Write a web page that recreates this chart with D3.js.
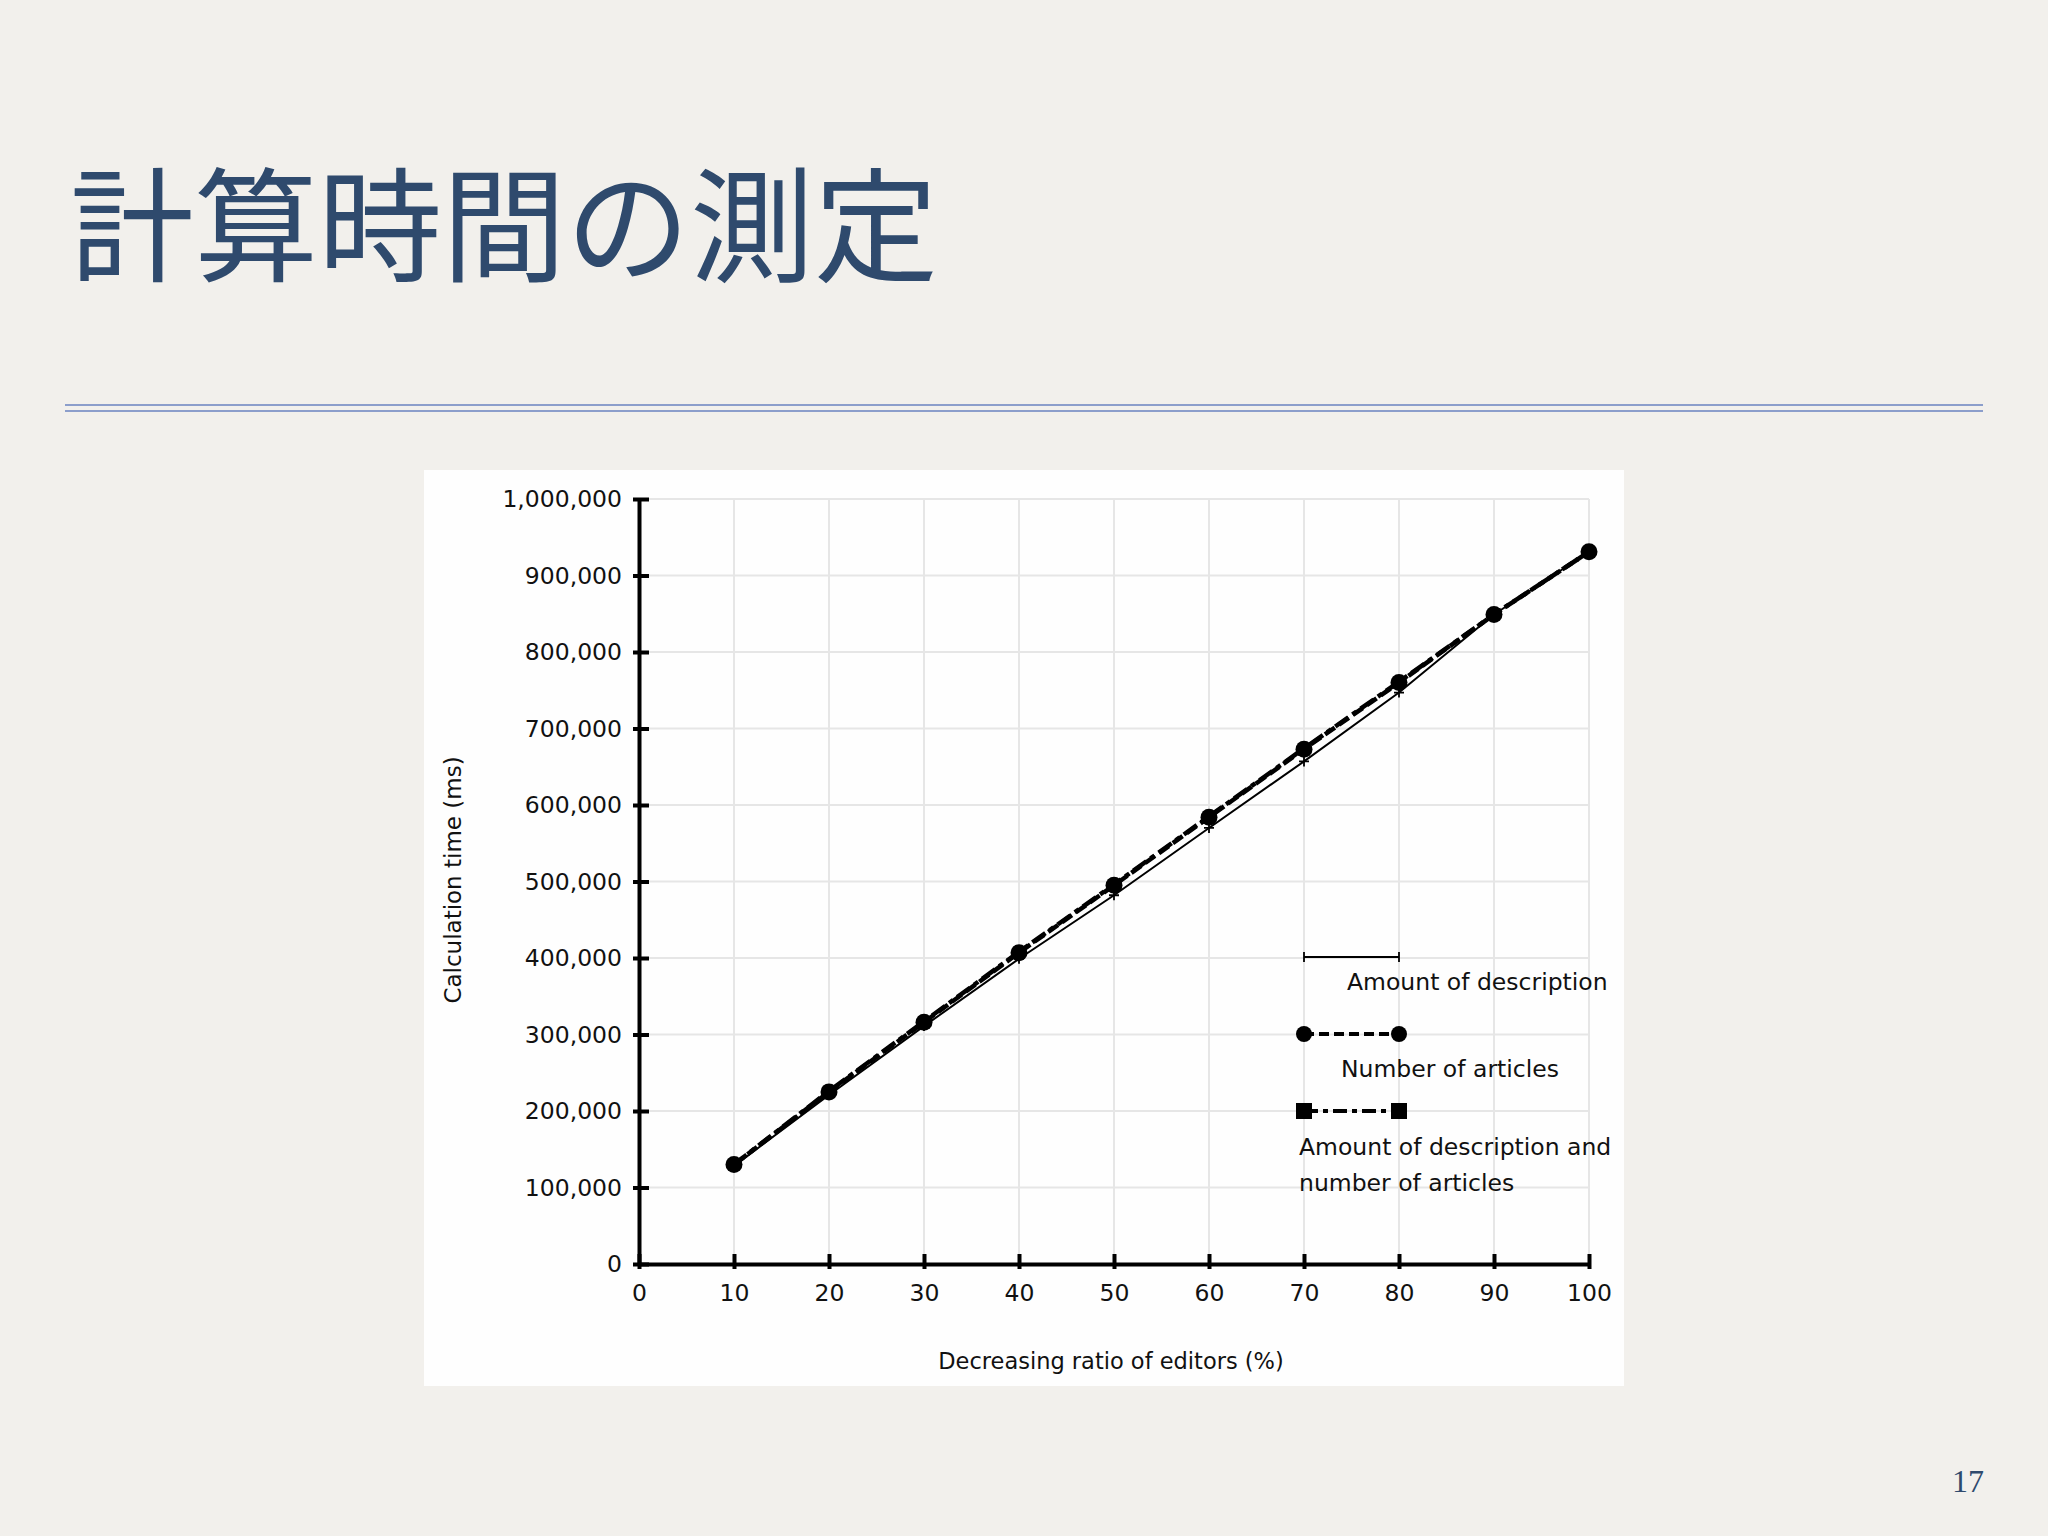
<!DOCTYPE html>
<html>
<head>
<meta charset="utf-8">
<script src="https://cdn.jsdelivr.net/npm/d3@7"></script>
<style>
  body { margin: 0; background: #f2f0ec; }
  svg { display: block; }
</style>
</head>
<body>
<div id="slide"></div>
<script>
// data
var ratios = [10, 20, 30, 40, 50, 60, 70, 80, 90, 100];
var amountOfDescription = [128000, 221000, 311000, 399000, 482000, 570000, 657000, 747000, 849000, 931000];
var numberOfArticles = [130000, 225000, 316000, 407000, 495000, 584000, 673000, 760000, 849000, 931000];
var descAndArticles = [130000, 226000, 317000, 408000, 496000, 585000, 674000, 761000, 849000, 931000];
var xTicks = [0, 10, 20, 30, 40, 50, 60, 70, 80, 90, 100];
var yTicks = [0, 100000, 200000, 300000, 400000, 500000, 600000, 700000, 800000, 900000, 1000000];
var titleText = "計算時間の測定";
var xTitle = "Decreasing ratio of editors (%)";
var yTitle = "Calculation time (ms)";
var legendLabels = ["Amount of description", "Number of articles", "Amount of description and", "number of articles"];
var pageNumber = "17";

(function () {
    var W = 2048, H = 1536;
    var font = "'DejaVu Sans', sans-serif";

    var svg = d3.select("#slide")
        .append("svg")
        .attr("width", W)
        .attr("height", H);

    // slide background
    svg.append("rect")
        .attr("width", W).attr("height", H)
        .attr("fill", "#f2f0ec");

    // title
    svg.append("text")
        .attr("x", 70)
        .attr("y", 272)
        .attr("font-family", "'Noto Sans CJK JP', sans-serif")
        .attr("font-size", 124)
        .attr("fill", "#2f4a6d")
        .text(titleText);

    // double rule under the title
    [405, 411].forEach(function (yy) {
        svg.append("line")
            .attr("x1", 65).attr("x2", 1983)
            .attr("y1", yy).attr("y2", yy)
            .attr("stroke", "#8c9ecb")
            .attr("stroke-width", 1.8);
    });

    // page number
    svg.append("text")
        .attr("x", 1968).attr("y", 1492)
        .attr("text-anchor", "middle")
        .attr("font-family", "'Liberation Serif', serif")
        .attr("font-size", 32)
        .attr("fill", "#2f4a6d")
        .text(pageNumber);

    // white chart panel
    svg.append("rect")
        .attr("x", 424).attr("y", 470)
        .attr("width", 1200).attr("height", 916)
        .attr("fill", "#fefefe");

    // plot area
    var margin = { left: 639, top: 499 },
        width = 1589 - 639,
        height = 1264 - 499;

    var g = svg.append("g")
        .attr("transform", "translate(" + margin.left + "," + margin.top + ")");

    var x = d3.scaleLinear().domain([0, 100]).range([0, width]);
    var y = d3.scaleLinear().domain([0, 1000000]).range([height, 0]);

    // grid
    g.append("g").selectAll("line")
        .data(xTicks.slice(1))
        .enter().append("line")
        .attr("x1", function (d) { return x(d); })
        .attr("x2", function (d) { return x(d); })
        .attr("y1", 0).attr("y2", height)
        .attr("stroke", "#e6e6e6").attr("stroke-width", 2);
    g.append("g").selectAll("line")
        .data(yTicks.slice(1))
        .enter().append("line")
        .attr("x1", 0).attr("x2", width)
        .attr("y1", function (d) { return y(d); })
        .attr("y2", function (d) { return y(d); })
        .attr("stroke", "#e6e6e6").attr("stroke-width", 2);

    // axes
    var yAxis = g.append("g")
        .call(d3.axisLeft(y).tickValues(yTicks).tickFormat(d3.format(",")).tickSizeOuter(0));
    yAxis.select(".domain").attr("stroke", "#000").attr("stroke-width", 4);
    yAxis.selectAll(".tick line").attr("x1", -6).attr("x2", 10).attr("stroke-width", 4);
    yAxis.selectAll(".tick text")
        .attr("x", -17)
        .attr("font-family", font)
        .attr("font-size", 23.5)
        .attr("fill", "#111");

    var xAxis = g.append("g")
        .attr("transform", "translate(0," + height + ")")
        .call(d3.axisBottom(x).tickValues(xTicks).tickSizeOuter(0));
    xAxis.select(".domain").attr("stroke", "#000").attr("stroke-width", 4);
    xAxis.selectAll(".tick line").attr("y1", -10).attr("y2", 5).attr("stroke-width", 4);
    xAxis.selectAll(".tick text")
        .attr("y", 20)
        .attr("font-family", font)
        .attr("font-size", 23.5)
        .attr("fill", "#111");

    // axis titles
    svg.append("text")
        .attr("transform", "translate(461,880) rotate(-90)")
        .attr("text-anchor", "middle")
        .attr("font-family", font)
        .attr("font-size", 23)
        .attr("fill", "#111")
        .text(yTitle);
    svg.append("text")
        .attr("x", 1111).attr("y", 1369)
        .attr("text-anchor", "middle")
        .attr("font-family", font)
        .attr("font-size", 22.5)
        .attr("fill", "#111")
        .text(xTitle);

    function rows(values) {
        return ratios.map(function (r, i) { return { x: r, y: values[i] }; });
    }
    var line = d3.line()
        .x(function (d) { return x(d.x); })
        .y(function (d) { return y(d.y); });

    // amount of description: thin line, + markers
    var s1 = rows(amountOfDescription);
    g.append("path").datum(s1)
        .attr("fill", "none").attr("stroke", "#000").attr("stroke-width", 2)
        .attr("d", line);
    g.append("g").selectAll("path")
        .data(s1).enter().append("path")
        .attr("d", function (d) {
            var cx = x(d.x), cy = y(d.y);
            return "M" + (cx - 5) + "," + cy + "H" + (cx + 5) + "M" + cx + "," + (cy - 5) + "V" + (cy + 5);
        })
        .attr("stroke", "#000").attr("stroke-width", 1.8);

    // description and articles: dash-dot, squares
    var s3 = rows(descAndArticles);
    g.append("path").datum(s3)
        .attr("fill", "none").attr("stroke", "#000").attr("stroke-width", 4.5)
        .attr("stroke-dasharray", "16,5,5,5")
        .attr("d", line);
    g.append("g").selectAll("rect")
        .data(s3).enter().append("rect")
        .attr("x", function (d) { return x(d.x) - 5.5; })
        .attr("y", function (d) { return y(d.y) - 5.5; })
        .attr("width", 11).attr("height", 11)
        .attr("fill", "#000");

    // number of articles: dashed, circles
    var s2 = rows(numberOfArticles);
    g.append("path").datum(s2)
        .attr("fill", "none").attr("stroke", "#000").attr("stroke-width", 4.5)
        .attr("stroke-dasharray", "12,5")
        .attr("d", line);
    g.append("g").selectAll("circle")
        .data(s2).enter().append("circle")
        .attr("cx", function (d) { return x(d.x); })
        .attr("cy", function (d) { return y(d.y); })
        .attr("r", 8.5)
        .attr("fill", "#000");

    // legend
    var lg = svg.append("g");
    var lx1 = 1304, lx2 = 1399;

    lg.append("line")
        .attr("x1", lx1).attr("x2", lx2).attr("y1", 957).attr("y2", 957)
        .attr("stroke", "#000").attr("stroke-width", 2);
    [lx1, lx2].forEach(function (px) {
        lg.append("line")
            .attr("x1", px).attr("x2", px).attr("y1", 952).attr("y2", 962)
            .attr("stroke", "#000").attr("stroke-width", 1.8);
    });
    lg.append("text")
        .attr("x", 1347).attr("y", 990)
        .attr("font-family", font).attr("font-size", 23.5).attr("fill", "#111")
        .text(legendLabels[0]);

    lg.append("line")
        .attr("x1", lx1).attr("x2", lx2).attr("y1", 1034).attr("y2", 1034)
        .attr("stroke", "#000").attr("stroke-width", 4)
        .attr("stroke-dasharray", "10,5");
    [lx1, lx2].forEach(function (px) {
        lg.append("circle").attr("cx", px).attr("cy", 1034).attr("r", 8).attr("fill", "#000");
    });
    lg.append("text")
        .attr("x", 1341).attr("y", 1077)
        .attr("font-family", font).attr("font-size", 23.5).attr("fill", "#111")
        .text(legendLabels[1]);

    lg.append("line")
        .attr("x1", lx1).attr("x2", lx2).attr("y1", 1111).attr("y2", 1111)
        .attr("stroke", "#000").attr("stroke-width", 4)
        .attr("stroke-dasharray", "14,5,5,5");
    [lx1, lx2].forEach(function (px) {
        lg.append("rect").attr("x", px - 8).attr("y", 1103).attr("width", 16).attr("height", 16).attr("fill", "#000");
    });
    lg.append("text")
        .attr("x", 1299).attr("y", 1155)
        .attr("font-family", font).attr("font-size", 23.5).attr("fill", "#111")
        .text(legendLabels[2]);
    lg.append("text")
        .attr("x", 1299).attr("y", 1191)
        .attr("font-family", font).attr("font-size", 23.5).attr("fill", "#111")
        .text(legendLabels[3]);
})();
</script>
</body>
</html>
